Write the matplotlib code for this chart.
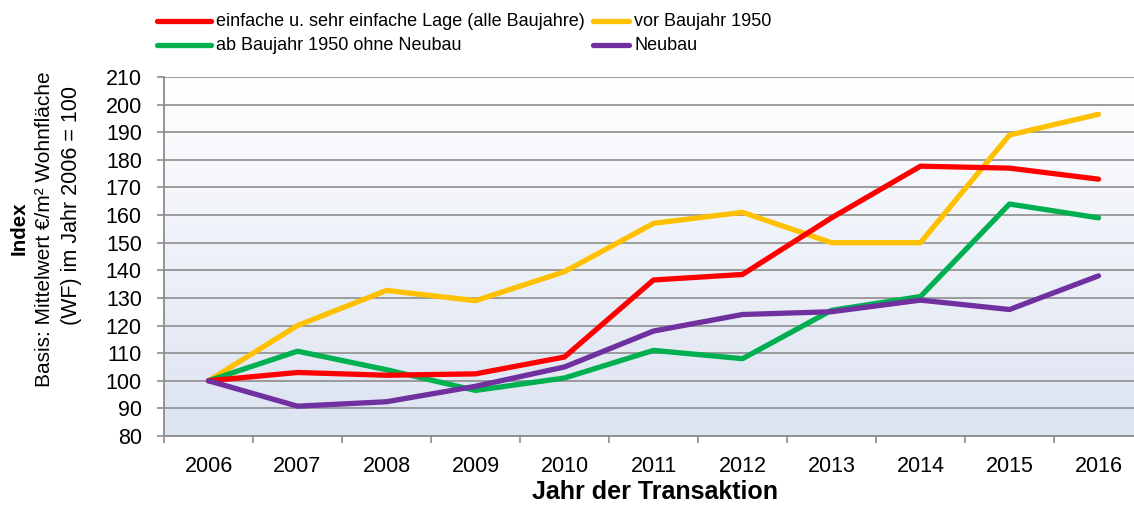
import numpy as np
import matplotlib
matplotlib.use("Agg")
import matplotlib.pyplot as plt
from matplotlib.colors import LinearSegmentedColormap
from matplotlib.lines import Line2D

years = ["2006", "2007", "2008", "2009", "2010", "2011", "2012", "2013", "2014", "2015", "2016"]
einfache = [100, 103, 102, 102.5, 108.6, 136.5, 138.5, 159, 177.7, 177, 173]
vor1950 = [100, 120, 132.7, 129, 139.5, 157, 161, 150, 150, 189, 196.5]
ab1950 = [100, 110.7, 104, 96.5, 101, 111, 108, 125.5, 130.5, 164, 159]
neubau = [100, 90.8, 92.4, 98, 105, 118, 124, 125, 129.2, 125.8, 138]

series = [
    ("einfache u. sehr einfache Lage (alle Baujahre)", einfache, "#FF0000"),
    ("vor Baujahr 1950", vor1950, "#FFC000"),
    ("ab Baujahr 1950 ohne Neubau", ab1950, "#00B050"),
    ("Neubau", neubau, "#7030A0"),
]
yticks = list(range(80, 211, 10))

plt.rcParams['font.family'] = ['Liberation Sans', 'DejaVu Sans']

W, H = 1134, 505
fig = plt.figure(figsize=(W / 100, H / 100), dpi=100)
ax = fig.add_axes([164 / W, 1 - 436 / H, 979 / W, 359 / H])

# gradient background
cmap = LinearSegmentedColormap.from_list("bg", ["#ffffff", "#dce3f1"])
grad = np.linspace(0, 1, 256).reshape(-1, 1)
ax.imshow(grad, aspect="auto", cmap=cmap, extent=[0, 1, 0, 1], origin="upper",
          transform=ax.transAxes, zorder=0)

x = np.arange(len(years))
for i in [1, 2, 0, 3]:
    name, vals, col = series[i]
    ax.plot(x, vals, color=col, lw=3.8, solid_capstyle="round",
            solid_joinstyle="round", zorder=3)

ax.set_xlim(-0.5, 10.5)
ax.set_ylim(80, 210)
ax.set_yticks(yticks)
ax.set_yticklabels([str(v) for v in yticks], fontsize=15.5)
ax.set_xticks(x)
ax.set_xticklabels(years, fontsize=15.5)
ax.set_xticks(np.arange(-0.5, 11, 1), minor=True)
ax.tick_params(axis="x", which="major", length=0, pad=14.5)
ax.tick_params(axis="x", which="minor", length=5, width=1.2, color="#8c8c8c")
ax.tick_params(axis="y", which="major", length=5, width=1.2, color="#8c8c8c", pad=11)
ax.grid(axis="y", color="#959595", lw=1.3, zorder=1)
ax.set_axisbelow(True)
for s in ["top", "right"]:
    ax.spines[s].set_visible(False)
for s in ["left", "bottom"]:
    ax.spines[s].set_color("#8c8c8c")
    ax.spines[s].set_linewidth(1.3)

fig.text(655 / W, 1 - 492 / H, "Jahr der Transaktion", ha="center", va="center",
         fontsize=18, fontweight="bold")
fig.text(19.5 / W, 1 - 228 / H, "Index", rotation=90, ha="center", va="center",
         fontsize=14.8, fontweight="bold")
fig.text(45 / W, 1 - 229 / H, "Basis: Mittelwert €/m² Wohnfläche", rotation=90,
         ha="center", va="center", fontsize=15)
fig.text(71 / W, 1 - 206 / H, "(WF) im Jahr 2006 = 100", rotation=90,
         ha="center", va="center", fontsize=15.5)

# legend
leg_pos = [(157, 211, 216, 21), (593, 629, 634, 21), (157, 211, 216, 45), (593, 629, 634, 45)]
for (name, vals, col), (x0, x1, tx, yy) in zip(series, leg_pos):
    fig.add_artist(Line2D([x0 / W, x1 / W], [1 - yy / H, 1 - yy / H], color=col, lw=3.8,
                          solid_capstyle="round", transform=fig.transFigure))
    fig.text(tx / W, 1 - yy / H, name, ha="left", va="center", fontsize=13)

fig.savefig("out.png", dpi=100)
